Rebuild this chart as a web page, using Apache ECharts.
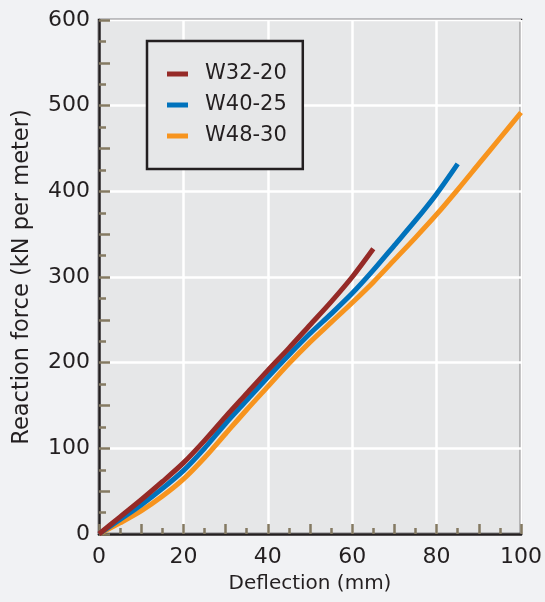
<!DOCTYPE html>
<html>
<head>
<meta charset="utf-8">
<script src="https://cdn.jsdelivr.net/npm/echarts@6/dist/echarts.min.js"></script>
<style>
  html, body { margin: 0; padding: 0; background: #f1f2f4; }
  #main-chart { width: 545px; height: 602px; }
</style>
</head>
<body>
<div id="main-chart"></div>
<script>
// deflection (mm) vs reaction force (kN per meter)
const seriesNames = ['W32-20', 'W40-25', 'W48-30'];
const seriesColors = ['#952a27', '#0072bc', '#f7941e'];

const deflW32 = [0, 5, 10, 15, 20, 25, 30, 35, 40, 45, 50, 55, 60, 65];
const forceW32 = [0, 20, 40, 61, 83, 109, 137, 164, 191, 217, 244, 271, 300, 333];

const deflW40 = [0, 5, 10, 15, 20, 25, 30, 35, 40, 45, 50, 55, 60, 65, 70, 75, 80, 85];
const forceW40 = [0, 17, 34, 53, 74, 100, 129, 156, 183, 209, 234, 257, 281, 308, 337, 366, 397, 432];

const deflW48 = [0, 5, 10, 15, 20, 25, 30, 35, 40, 45, 50, 55, 60, 65, 70, 75, 80, 85, 90, 95, 100];
const forceW48 = [0, 13, 27, 44, 64, 89, 117, 145, 172, 199, 224, 247, 270, 294, 320, 346, 373, 402, 432, 462, 492];

const FONT = 'DejaVu Sans';
const INK = '#231f20';
const TICK = '#847a62';

function pairs(xs, ys) {
    return xs.map((x, i) => [x, ys[i]]);
}

const chart = echarts.init(document.getElementById('main-chart'));

const lineSeries = [
    pairs(deflW32, forceW32),
    pairs(deflW40, forceW40),
    pairs(deflW48, forceW48)
].map((data, i) => ({
    name: seriesNames[i],
    type: 'line',
    data: data,
    smooth: 0.3,
    showSymbol: false,
    lineStyle: { color: seriesColors[i], width: 5, cap: 'butt' },
    itemStyle: { color: seriesColors[i] },
    z: 10 - i
}));

chart.setOption({
    backgroundColor: '#f1f2f4',
    animation: false,
    textStyle: { fontFamily: FONT },
    grid: {
        left: 99, right: 22, top: 20, bottom: 68,
        show: true,
        backgroundColor: '#e6e7e8',
        borderColor: INK,
        borderWidth: 2.5
    },
    legend: {
        orient: 'vertical',
        left: 147,
        top: 41,
        data: seriesNames,
        icon: 'rect',
        itemWidth: 21,
        itemHeight: 5,
        itemGap: 5,
        padding: [20, 16, 20, 20],
        backgroundColor: '#e6e7e8',
        borderColor: INK,
        borderWidth: 2.5,
        textStyle: { fontFamily: FONT, fontSize: 21, color: INK, lineHeight: 26, padding: [0, 0, 0, 12] }
    },
    xAxis: [
        {
            type: 'value',
            min: 0, max: 100, interval: 20,
            name: 'Deflection (mm)',
            nameLocation: 'middle',
            nameGap: 40,
            nameTextStyle: { fontFamily: FONT, fontSize: 20, color: INK },
            axisLine: { show: true, lineStyle: { color: INK, width: 2.5 } },
            axisTick: { show: false },
            minorTick: { show: false },
            axisLabel: { fontFamily: FONT, fontSize: 22, color: INK, margin: 12 },
            splitLine: { show: true, lineStyle: { color: '#ffffff', width: 2.5 } }
        },
        {
            type: 'value',
            position: 'bottom',
            min: 0, max: 100, interval: 10,
            axisLine: { show: false },
            axisLabel: { show: false },
            splitLine: { show: false },
            axisTick: { show: true, inside: true, length: 10, lineStyle: { color: TICK, width: 2.5 } },
            minorTick: { show: true, splitNumber: 2, length: 6, lineStyle: { color: TICK, width: 2.5 } }
        }
    ],
    yAxis: [
        {
            type: 'value',
            min: 0, max: 600, interval: 100,
            name: 'Reaction force (kN per meter)',
            nameLocation: 'middle',
            nameGap: 65,
            nameTextStyle: { fontFamily: FONT, fontSize: 22.5, color: INK },
            axisLine: { show: true, lineStyle: { color: INK, width: 2.5 } },
            axisTick: { show: false },
            axisLabel: { fontFamily: FONT, fontSize: 22, color: INK, margin: 9 },
            splitLine: { show: true, lineStyle: { color: '#ffffff', width: 2.5 } }
        },
        {
            type: 'value',
            position: 'left',
            min: 0, max: 600, interval: 50,
            axisLine: { show: false },
            axisLabel: { show: false },
            splitLine: { show: false },
            axisTick: { show: true, inside: true, length: 11, lineStyle: { color: TICK, width: 2.5 } },
            minorTick: { show: true, splitNumber: 2, length: 7, lineStyle: { color: TICK, width: 2.5 } }
        }
    ],
    series: lineSeries
});

window.addEventListener('resize', () => chart.resize());
</script>
</body>
</html>
